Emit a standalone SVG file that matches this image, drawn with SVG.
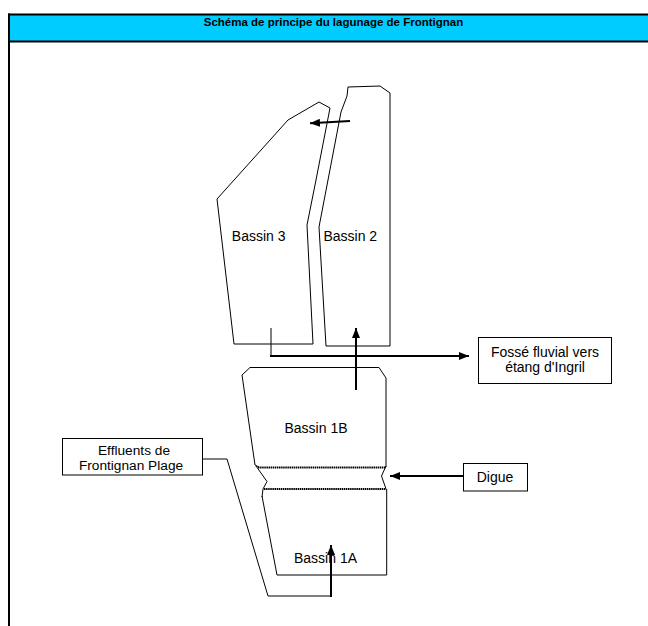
<svg xmlns="http://www.w3.org/2000/svg" width="648" height="626" viewBox="0 0 648 626">
<style>
.basin{fill:none;stroke:#000;stroke-width:1}
.thin{fill:none;stroke:#000;stroke-width:1}
.arr{fill:none;stroke:#000;stroke-width:2;marker-end:url(#ah)}
.box{fill:#fff;stroke:#000;stroke-width:1}
.lbl{font-family:"Liberation Sans",Arial,sans-serif;font-size:14px;fill:#000;text-anchor:middle}
.eff{font-size:13.7px}
.title{font-family:"Liberation Sans",Arial,sans-serif;font-size:11.5px;font-weight:bold;fill:#000;text-anchor:middle}
.digue{fill:none;stroke:#000;stroke-width:1.8;stroke-dasharray:1.5 0.6}
</style>
<defs>
<marker id="ah" markerUnits="userSpaceOnUse" markerWidth="10" markerHeight="8" refX="10" refY="4" orient="auto">
<path d="M0,0 L10,4 L0,8 z" fill="#000"/>
</marker>
<clipPath id="effclip"><rect x="62" y="438" width="140" height="35.5"/></clipPath>
</defs>
<g id="frame">
<rect x="9" y="15" width="650" height="26.5" fill="#00ccff"/>
<line x1="8" y1="14.5" x2="648" y2="14.5" stroke="#000" stroke-width="2"/>
<line x1="8" y1="41.5" x2="648" y2="41.5" stroke="#000" stroke-width="2"/>
<line x1="9" y1="13.5" x2="9" y2="626" stroke="#000" stroke-width="2"/>
<text class="title" x="333.5" y="26">Schéma de principe du lagunage de Frontignan</text>
</g>
<g id="bassin3">
<polygon class="basin" points="217,199 288,120 319,102 330,108 316,180 307,225 313,344 234,344"/>
<text class="lbl" x="258.7" y="241">Bassin 3</text>
</g>
<g id="bassin2">
<polygon class="basin" points="348,87 380,86 390,93 390,346 326,346 319,227 341,112 347,96"/>
<text class="lbl" x="350.3" y="241">Bassin 2</text>
</g>
<g id="bassin1B">
<polyline class="basin" points="259,467 255,465 242,375 250,367.5 379,367.5 386,378 386,467"/>
<text class="lbl" x="316" y="433">Bassin 1B</text>
</g>
<g id="digue-wall">
<line class="digue" x1="258" y1="467.5" x2="386" y2="467.5"/>
<line class="digue" x1="264" y1="489" x2="386" y2="489"/>
<polyline class="thin" points="256,466 267,481.5 263,489 262,497"/>
<polyline class="thin" points="386,466 381.5,476 386,489"/>
</g>
<g id="bassin1A">
<polyline class="basin" points="262,496 277,575 386.7,575 386.7,489"/>
<text class="lbl" x="325.5" y="563.3">Bassin 1A</text>
</g>
<g id="fosse">
<rect class="box" x="478.5" y="337.5" width="133" height="46"/>
<text class="lbl" x="545" y="357">Fossé fluvial vers</text>
<text class="lbl" x="545" y="372">étang d'Ingril</text>
</g>
<g id="effluents">
<rect class="box" x="62.5" y="438.5" width="140" height="36.5"/>
<g clip-path="url(#effclip)">
<text class="lbl eff" x="134" y="455">Effluents de</text>
<text class="lbl eff" x="131" y="469.5">Frontignan Plage</text>
</g>
</g>
<g id="digue">
<rect class="box" x="463.5" y="463.5" width="64" height="27.5"/>
<text class="lbl" x="495" y="482">Digue</text>
</g>
<g id="connectors">
<line class="arr" x1="350" y1="121" x2="310" y2="123.3"/>
<line class="thin" x1="271" y1="328" x2="271" y2="356"/>
<line class="arr" x1="270" y1="356" x2="469" y2="356"/>
<line class="arr" x1="356" y1="390" x2="356" y2="328"/>
<line class="arr" x1="463" y1="476" x2="390" y2="476"/>
<polyline class="thin" points="202.5,459 227,459 268,596 331,596"/>
<line class="arr" x1="331" y1="597" x2="331" y2="545"/>
</g>
</svg>
